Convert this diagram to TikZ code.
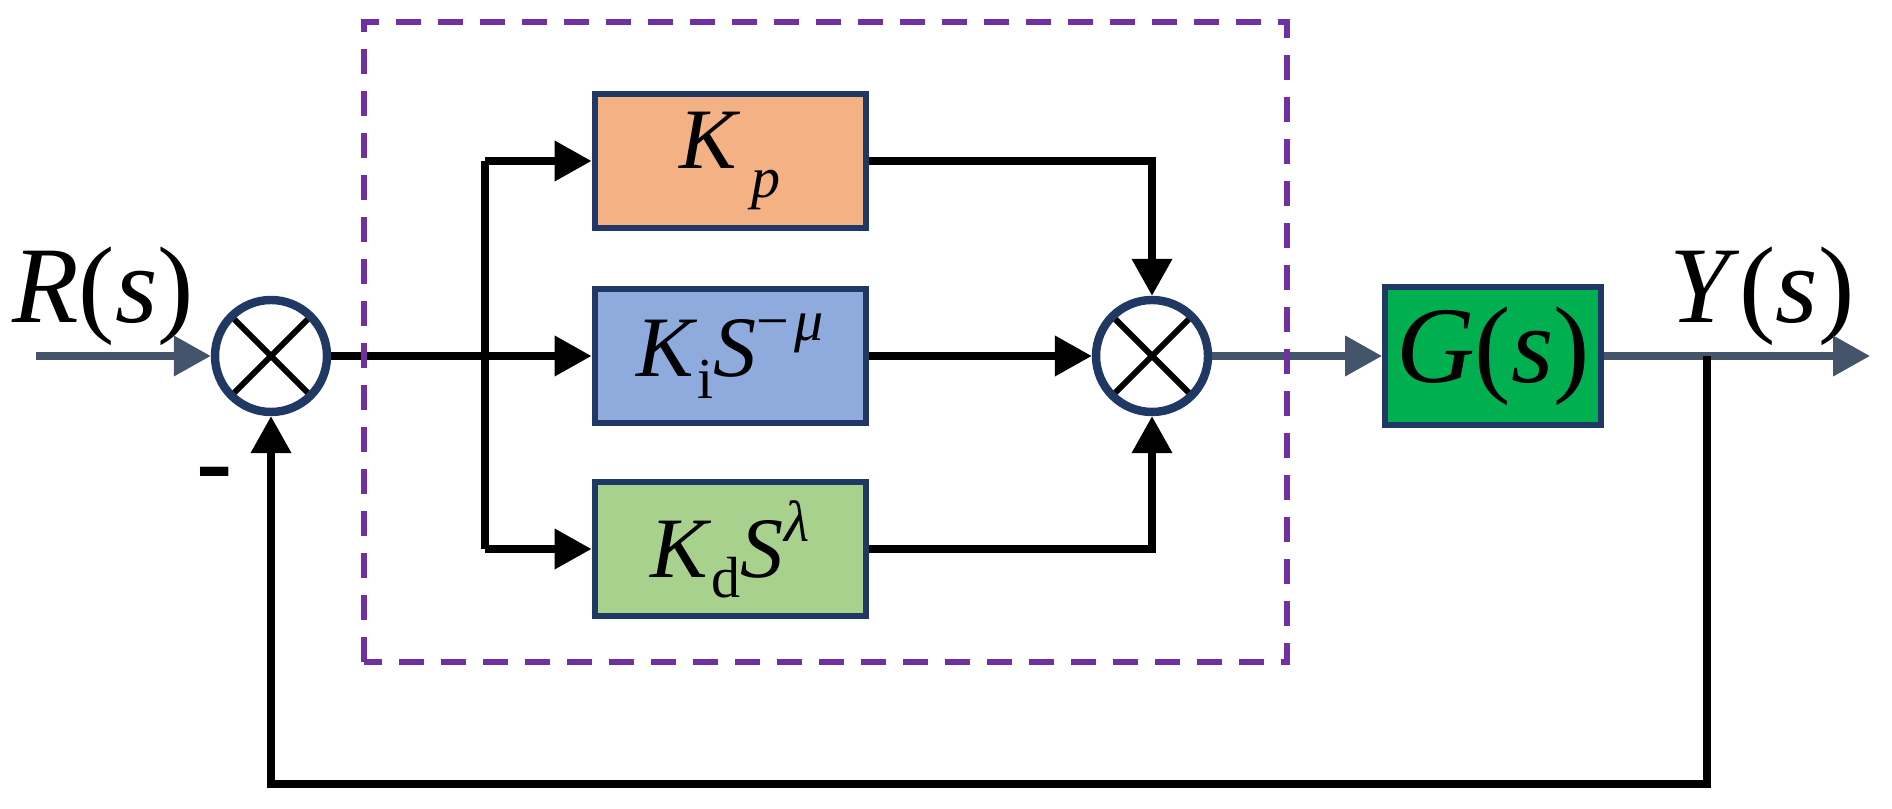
\documentclass[tikz,border=0pt]{standalone}
\usepackage{fontspec}
\setmainfont{Liberation Serif}
\usetikzlibrary{arrows.meta}

\definecolor{navy}{HTML}{1F3864}
\definecolor{slate}{HTML}{44546A}
\definecolor{dashpurple}{HTML}{7030A0}
\definecolor{kpfill}{HTML}{F4B183}
\definecolor{kifill}{HTML}{8FAADC}
\definecolor{kdfill}{HTML}{A9D18E}
\definecolor{gfill}{HTML}{00B050}

\newcommand{\bigsize}{\fontsize{31}{35}\selectfont}
\newcommand{\gainsize}{\fontsize{24.5}{28}\selectfont}
\newcommand{\subsize}{\fontsize{16.5}{19}\selectfont}

\tikzset{
  sumnode/.style={circle,draw=navy,line width=2.4pt,minimum size=1.12cm,fill=white,
    path picture={\draw[black,line width=1.7pt]
      (path picture bounding box.north west)--(path picture bounding box.south east)
      (path picture bounding box.north east)--(path picture bounding box.south west);}},
  gainbox/.style={draw=navy,line width=1.7pt,minimum width=2.71cm,minimum height=1.34cm,
    inner sep=0pt,font=\gainsize},
  sig/.style={line width=2.1pt,-{Triangle[length=0.37cm,width=0.39cm]}},
  wire/.style={line width=2.1pt},
}

\begin{document}
\begin{tikzpicture}
\useasboundingbox (0,0) rectangle (18.92,8.09);
% summing junctions and blocks
\node[sumnode] (sum1) at (2.71,4.53) {};
\node[sumnode] (sum2) at (11.52,4.53) {};
\node[gainbox,fill=kpfill] (kp) at (7.30,6.48)
  {\textit{K}\kern0.12em\raisebox{-0.33em}{\subsize\textit{p}}};
\node[gainbox,fill=kifill] (ki) at (7.30,4.53)
  {\textit{K}\raisebox{-0.25em}{\subsize i}\textit{S}\raisebox{0.42em}{\subsize −\kern0.08em\textit{μ}}};
\node[gainbox,fill=kdfill] (kd) at (7.30,2.60)
  {\textit{K}\raisebox{-0.23em}{\subsize d}\textit{S}\raisebox{0.42em}{\subsize\textit{λ}}};
\node[gainbox,fill=gfill,minimum width=2.16cm,minimum height=1.38cm,font=\bigsize] (plant) at (14.93,4.53)
  {\textit{G}(\textit{s})};
% labels
\node[font=\bigsize] (rlabel) at (1.03,5.13) {\textit{R}(\textit{s})};
\node[font=\bigsize] (ylabel) at (17.62,5.13) {\textit{Y}(\textit{s})};
\node[font=\bigsize] (minus) at (2.15,3.27) {\textbf{-}};
\coordinate (in) at (0.36,4.53);
\coordinate (out) at (18.70,4.53);
\coordinate (split) at (4.85,4.53);
\coordinate (fb) at (17.07,4.53);
\coordinate (fbcorner) at (17.07,0.25);
% signal paths
\draw[sig,slate] (in) -- (sum1);
\draw[wire] (sum1) -- (split);
\draw[wire] (split |- kp) -- (split |- kd);
\draw[sig] (split |- kp) -- (kp);
\draw[sig] (split) -- (ki);
\draw[sig] (split |- kd) -- (kd);
\draw[sig] (kp) -| (sum2);
\draw[sig] (ki) -- (sum2);
\draw[sig] (kd) -| (sum2);
\draw[sig,slate] (sum2) -- (plant);
\draw[sig,slate] (plant) -- (out);
\draw[sig] (fb) -- (fbcorner) -| (sum1);
% controller frame
\draw[dashpurple,line width=1.6pt,dash pattern=on 0.25cm off 0.17cm] (3.64,1.47) rectangle (12.87,7.87);
\end{tikzpicture}
\end{document}
